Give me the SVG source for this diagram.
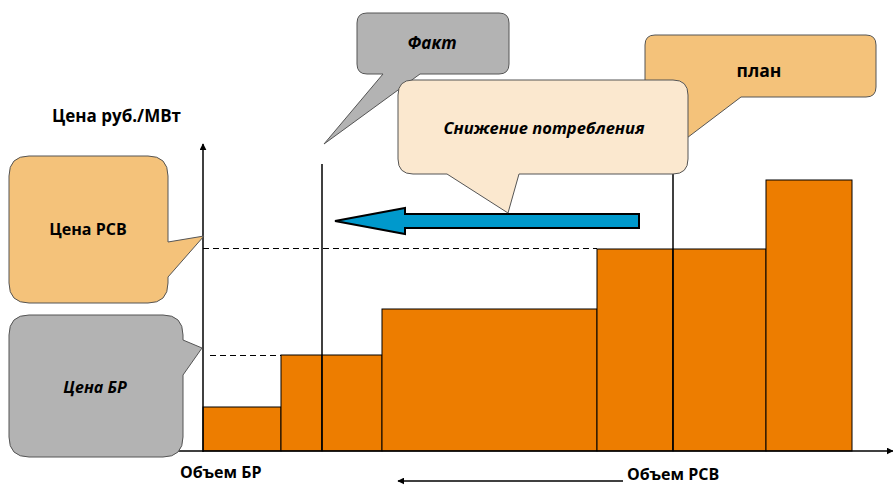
<svg xmlns="http://www.w3.org/2000/svg" width="893" height="486" viewBox="0 0 893 486">
<defs>
<marker id="ah" viewBox="0 0 10 10" refX="9" refY="5" markerWidth="7" markerHeight="7" orient="auto-start-reverse" markerUnits="userSpaceOnUse">
<path d="M0,0 L10,5 L0,10 z" fill="#000"/>
</marker>
<style>
.bar{fill:#ed7d00;stroke:#000;stroke-width:1}
.bub{stroke:#555;stroke-width:1}
.t{font-family:"Open Sans","Liberation Sans",sans-serif;font-weight:bold;fill:#000}
.dash{stroke:#000;stroke-width:1.2;stroke-dasharray:6,4;fill:none}
.ln{stroke:#000;stroke-width:1.5;fill:none}
</style>
</defs>
<rect width="893" height="486" fill="#fff"/>
<g id="bars">
<rect class="bar" x="203" y="407" width="78" height="44"/>
<rect class="bar" x="281" y="355" width="41" height="96"/>
<rect class="bar" x="322" y="355" width="60" height="96"/>
<rect class="bar" x="382" y="309" width="215" height="142"/>
<rect class="bar" x="597" y="249" width="76" height="202"/>
<rect class="bar" x="673" y="249" width="93" height="202"/>
<rect class="bar" x="766" y="180" width="86" height="271"/>
</g>
<g id="connectors">
<line class="ln" x1="203" y1="452" x2="203" y2="144" marker-end="url(#ah)"/>
<line class="ln" x1="178" y1="451" x2="893" y2="451" marker-end="url(#ah)"/>
<line class="dash" x1="203" y1="248.5" x2="597" y2="248.5"/>
<line class="dash" x1="210" y1="355.5" x2="281" y2="355.5"/>
<line class="ln" x1="322" y1="164" x2="322" y2="451"/>
<line class="ln" x1="673" y1="160" x2="673" y2="451"/>
<line x1="623" y1="481" x2="398" y2="481" stroke="#000" stroke-width="1.5" marker-end="url(#ah)"/>
<path d="M639,214 L405,214 L405,208 L335,221 L405,234 L405,228 L639,228 Z" fill="#0099cc" stroke="#000" stroke-width="2"/>
</g>
<g id="plan">
<path class="bub" fill="#f4c27a" d="M655,35 H866 Q876,35 876,45 V87 Q876,97 866,97 H741 L675,147 L675,97 H655 Q645,97 645,87 V45 Q645,35 655,35 Z"/>
<text class="t" x="759" y="77" font-size="17.5" text-anchor="middle">план</text>
</g>
<g id="fakt">
<path class="bub" fill="#b3b3b3" d="M367,13 H499 Q509,13 509,23 V64 Q509,74 499,74 H420 L324,144 L383,74 H367 Q357,74 357,64 V23 Q357,13 367,13 Z"/>
<text class="t" x="432" y="49" font-size="17" font-style="italic" text-anchor="middle">Факт</text>
</g>
<g id="snizhenie">
<path class="bub" fill="#fbe8cf" d="M413,80 H673 Q688,80 688,95 V159 Q688,174 673,174 H519 L508,213 L447,174 H413 Q398,174 398,159 V95 Q398,80 413,80 Z"/>
<text class="t" x="544" y="134" font-size="16.5" font-style="italic" text-anchor="middle">Снижение потребления</text>
</g>
<g id="tsena-rsv">
<path class="bub" fill="#f4c27a" d="M29,156 H148 Q168,156 168,176 V242 L204,236 L168,277 V283 Q168,303 148,303 H29 Q9,303 9,283 V176 Q9,156 29,156 Z"/>
<text class="t" x="88" y="235" font-size="16" text-anchor="middle">Цена РСВ</text>
</g>
<g id="tsena-br">
<path class="bub" fill="#b3b3b3" d="M29,315 H163 Q183,315 183,335 V340 L202,348 L183,375 V437 Q183,457 163,457 H29 Q9,457 9,437 V335 Q9,315 29,315 Z"/>
<text class="t" x="95" y="393" font-size="16" font-style="italic" text-anchor="middle">Цена БР</text>
</g>
<g id="labels">
<text class="t" x="52" y="122" font-size="17">Цена руб./МВт</text>
<text class="t" x="180" y="478" font-size="16">Объем БР</text>
<text class="t" x="627" y="480" font-size="16">Объем РСВ</text>
</g>
</svg>
